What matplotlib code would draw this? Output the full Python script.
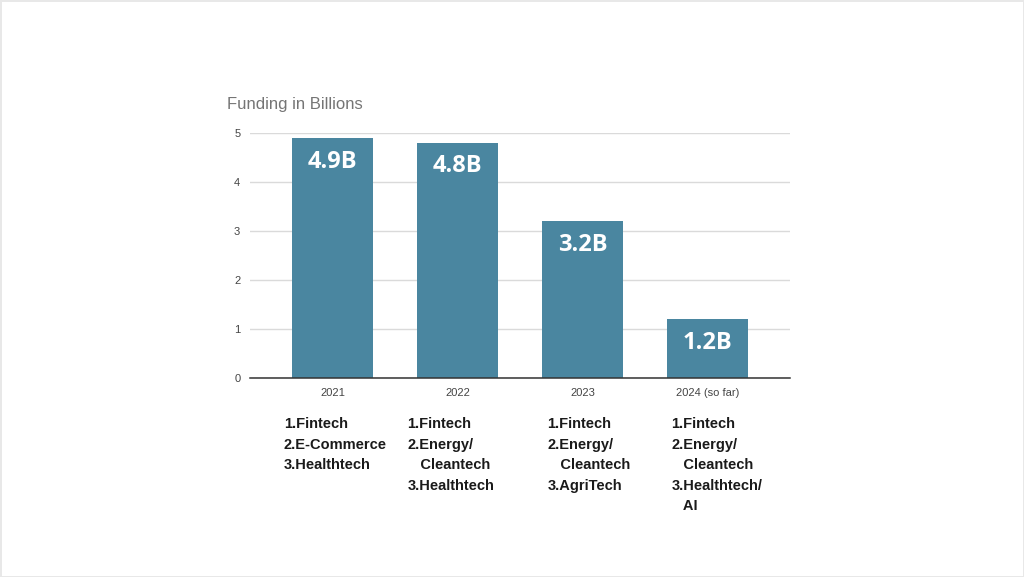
import matplotlib.pyplot as plt
import matplotlib.transforms as mtransforms

# data
years = ['2021', '2022', '2023', '2024 (so far)']
funding = [4.9, 4.8, 3.2, 1.2]
bar_labels = ['4.9B', '4.8B', '3.2B', '1.2B']
top_sectors = [
    ['Fintech', 'E-Commerce', 'Healthtech'],
    ['Fintech', 'Energy/\nCleantech', 'Healthtech'],
    ['Fintech', 'Energy/\nCleantech', 'AgriTech'],
    ['Fintech', 'Energy/\nCleantech', 'Healthtech/\nAI'],
]
# left edge of each sector list, relative to the bar centre (data units)
list_shift = [-0.39, -0.40, -0.28, -0.29]

W, H = 1024, 577
fig = plt.figure(figsize=(W / 100, H / 100), dpi=100)
fig.patch.set_facecolor('white')
fig.patch.set_edgecolor('#e8e8e8')
fig.patch.set_linewidth(2)

ax = fig.add_axes([250 / W, 1 - 378 / H, (790 - 250) / W, (378 - 133) / H])
x = range(len(years))
bars = ax.bar(x, funding, width=0.65, color='#4a86a0', zorder=3)

ax.set_ylim(0, 5)
ax.set_xlim(-0.66, 3.66)
ax.set_yticks([0, 1, 2, 3, 4, 5])
ax.set_xticks(list(x))
ax.set_xticklabels(years)
ax.tick_params(axis='both', length=0, labelsize=8, labelcolor='#444444')
ax.tick_params(axis='y', pad=7)
ax.tick_params(axis='x', pad=7)
for lbl in ax.get_xticklabels() + ax.get_yticklabels():
    lbl.set_fontfamily('Liberation Sans')

ax.grid(axis='y', color='#dadada', linewidth=1, zorder=0)
for s in ['top', 'right', 'left']:
    ax.spines[s].set_visible(False)
ax.spines['bottom'].set_color('#333333')
ax.spines['bottom'].set_linewidth(1.1)
ax.spines['bottom'].set_zorder(4)

# value labels inside bars
for b, lab in zip(bars, bar_labels):
    ax.annotate(lab, (b.get_x() + b.get_width() / 2, b.get_height()),
                xytext=(0, -17), textcoords='offset points',
                ha='center', va='center', color='white',
                fontsize=17, fontweight='bold', family='Open Sans', zorder=5)

fig.text(227 / W, 1 - 104 / H, 'Funding in Billions', ha='left', va='center',
         fontsize=12, color='#757575', family='Liberation Sans')

# sector lists under each year
trans = mtransforms.blended_transform_factory(ax.transData, fig.transFigure)
for i, sectors in enumerate(top_sectors):
    lines = []
    for n, s in enumerate(sectors, start=1):
        parts = s.split('\n')
        lines.append(f'{n}.{parts[0]}')
        for p in parts[1:]:
            lines.append('   ' + p)
    for k, line in enumerate(lines):
        ax.text(i + list_shift[i], 1 - (424 + 20.6 * k) / H, line,
                transform=trans, ha='left', va='center', fontsize=10.5,
                fontweight='bold', color='#1a1a1a', family='Liberation Sans',
                clip_on=False)

fig.savefig('out.png', dpi=100, facecolor=fig.get_facecolor(),
            edgecolor=fig.get_edgecolor())
